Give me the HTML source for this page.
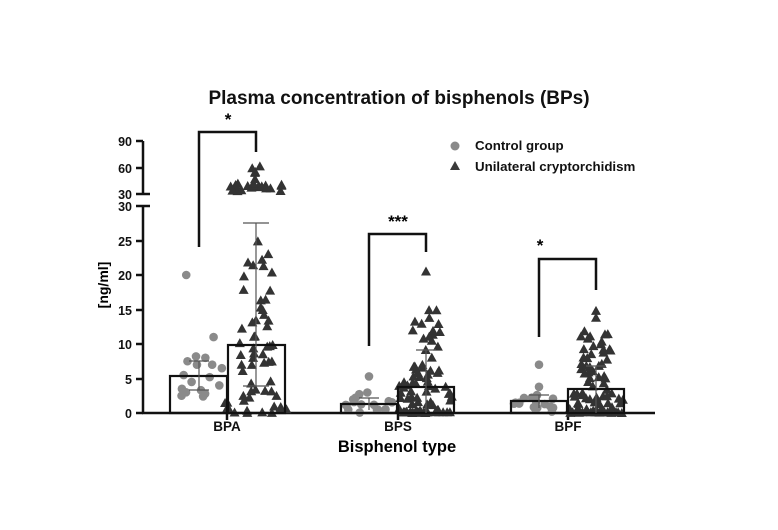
<!DOCTYPE html>
<html><head><meta charset="utf-8"><style>
body{margin:0;background:#fff}
svg{display:block;font-family:"Liberation Sans",Arial,sans-serif}
</style></head><body>
<svg id="s" width="778" height="530" viewBox="0 0 778 530" xmlns="http://www.w3.org/2000/svg">
<rect width="778" height="530" fill="#fff"/>
<text x="399" y="104" font-size="19" font-weight="bold" text-anchor="middle" fill="#111">Plasma concentration of bisphenols (BPs)</text>
<g stroke="#111" stroke-width="2.5" fill="none">
<line x1="143" y1="141" x2="143" y2="193"/>
<line x1="143" y1="207" x2="143" y2="414"/>
<line x1="136" y1="141" x2="143" y2="141"/><line x1="136" y1="168" x2="143" y2="168"/>
<line x1="136" y1="194" x2="150" y2="194"/><line x1="136" y1="206" x2="150" y2="206"/>
<line x1="136" y1="241" x2="143" y2="241"/><line x1="136" y1="275" x2="143" y2="275"/>
<line x1="136" y1="310" x2="143" y2="310"/><line x1="136" y1="344" x2="143" y2="344"/>
<line x1="136" y1="379" x2="143" y2="379"/><line x1="136" y1="413" x2="143" y2="413"/>
<line x1="142" y1="413" x2="655" y2="413"/>
<line x1="227" y1="413" x2="227" y2="420"/><line x1="398" y1="413" x2="398" y2="420"/><line x1="568" y1="413" x2="568" y2="420"/>
<polyline points="199,247 199,132 256,132 256,152"/>
<polyline points="369,346 369,234 426,234 426,252"/>
<polyline points="539,337 539,259 596,259 596,290"/>
</g>
<g font-size="12.5" font-weight="bold" text-anchor="end" fill="#111">
<text x="132" y="146">90</text><text x="132" y="173">60</text><text x="132" y="199">30</text>
<text x="132" y="211">30</text><text x="132" y="246">25</text><text x="132" y="280">20</text>
<text x="132" y="315">15</text><text x="132" y="349">10</text><text x="132" y="384">5</text><text x="132" y="418">0</text>
</g>
<text x="228" y="125" font-size="17" font-weight="bold" text-anchor="middle">*</text>
<text x="398" y="227" font-size="17" font-weight="bold" text-anchor="middle">***</text>
<text x="540" y="251" font-size="17" font-weight="bold" text-anchor="middle">*</text>
<g font-size="13.5" font-weight="bold" text-anchor="middle" fill="#111">
<text x="227" y="431">BPA</text><text x="398" y="431">BPS</text><text x="568" y="431">BPF</text>
</g>
<text x="397" y="452" font-size="16.5" font-weight="bold" text-anchor="middle">Bisphenol type</text>
<text transform="translate(108,285) rotate(-90)" font-size="14" font-weight="bold" text-anchor="middle">[ng/ml]</text>
<circle cx="455" cy="146" r="4.5" fill="#8a8a8a"/>
<text x="475" y="150" font-size="13.3" font-weight="bold" fill="#111">Control group</text>
<polygon points="455,161 460,170 450,170" fill="#3a3a3a"/>
<text x="475" y="171" font-size="13.3" font-weight="bold" fill="#111">Unilateral cryptorchidism</text>
<g id="pts"></g>
<g stroke="#111" stroke-width="2.2" fill="none">
<rect x="170" y="376" width="57" height="37"/><rect x="228" y="345" width="57" height="68"/>
<rect x="341" y="404" width="56" height="9"/><rect x="398" y="387" width="56" height="26"/>
<rect x="511" y="401" width="56" height="12"/><rect x="568" y="389" width="56" height="24"/>
</g>
<g stroke="#555" stroke-width="1.2">
<line x1="199" y1="361" x2="199" y2="390"/><line x1="189" y1="361" x2="209" y2="361"/><line x1="189" y1="390" x2="209" y2="390"/>
<line x1="256" y1="223" x2="256" y2="386"/><line x1="243" y1="223" x2="269" y2="223"/><line x1="243" y1="386" x2="269" y2="386"/>
<line x1="369" y1="398" x2="369" y2="410"/><line x1="359" y1="398" x2="379" y2="398"/>
<line x1="426" y1="350" x2="426" y2="413"/><line x1="416" y1="350" x2="436" y2="350"/>
<line x1="539" y1="395" x2="539" y2="408"/><line x1="529" y1="395" x2="549" y2="395"/>
<line x1="596" y1="366" x2="596" y2="413"/><line x1="586" y1="366" x2="606" y2="366"/>
</g>
</svg>
<script>
var g=document.getElementById('pts'),ns='http://www.w3.org/2000/svg',seed=7;
function r(){seed=(seed*9301+49297)%233280;return seed/233280;}
function Y(v){return 413-v*6.9;}
function c(x,y){var e=document.createElementNS(ns,'circle');e.setAttribute('cx',x);e.setAttribute('cy',y);e.setAttribute('r',4.3);e.setAttribute('fill','#8a8a8a');g.appendChild(e);}
function t(x,y){var e=document.createElementNS(ns,'polygon');e.setAttribute('points',x+','+(y-5)+' '+(x+5)+','+(y+4)+' '+(x-5)+','+(y+4));e.setAttribute('fill','#333');g.appendChild(e);}
[20,11,8.2,8,7.5,7,7,6.5,5.5,5.2,4.5,4,3.5,3.3,3,2.8,2.5,2.4].forEach(function(v,i){c(199+(i%2?1:-1)*(r()*26),Y(v));});
for(var i=0;i<22;i++)t(256+(r()-0.5)*56,188+(r()-0.6)*8);
for(i=0;i<5;i++)t(256+(r()-0.5)*16,164+r()*18);
for(i=0;i<60;i++){var v=Math.pow(r(),1.6)*26;t(256+(r()-0.5)*(v<3?62:34),Y(v));}
for(i=0;i<16;i++)c(369+(r()-0.5)*50,Y(r()*3));c(369,Y(5.3));
for(i=0;i<70;i++){var v=Math.pow(r(),1.8)*16;t(426+(r()-0.5)*(v<5?54:28),Y(v));}t(426,Y(20.5));
for(i=0;i<18;i++)t(426+(r()-0.5)*54,Y(0.1));
for(i=0;i<16;i++)c(539+(r()-0.5)*50,Y(r()*3));c(539,Y(7));c(539,Y(3.8));
for(i=0;i<70;i++){var v=Math.pow(r(),1.5)*12;t(596+(r()-0.5)*(v<4?54:30),Y(v));}t(596,Y(14.8));t(596,Y(13.8));
for(i=0;i<18;i++)t(596+(r()-0.5)*54,Y(0.1));
</script>
</body></html>
